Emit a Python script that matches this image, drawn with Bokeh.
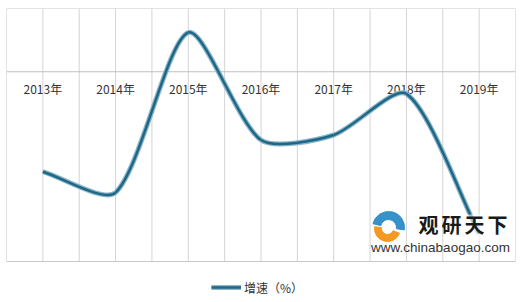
import math
from bokeh.plotting import figure
from bokeh.models import Range1d, Legend, LegendItem, ColumnDataSource
from bokeh.core.properties import value
from bokeh.embed import file_html
from bokeh.resources import INLINE

years = ["2013年", "2014年", "2015年", "2016年", "2017年", "2018年", "2019年"]
growth = [-15.8, -19.1, 6.2, -10.8, -10.0, -3.5, -25.6]
series_name = "增速（%）"

n = len(years)
xs = [i + 0.5 for i in range(n)]
y_lo, y_hi = -30.0, 10.0           # plot-area value range
px_per_unit = 253 / (y_hi - y_lo)  # plot area is 253 px tall
px_per_cat = 509 / n               # plot area is 509 px wide
y_bottom = y_lo - 41 / px_per_unit # extra room for the legend below

# Smoothed line (distance-weighted cardinal spline -> cubic bezier segments)
P = [(x * px_per_cat, y * px_per_unit) for x, y in zip(xs, growth)]
k = 0.25


def dist(a, b):
    return math.hypot(a[0] - b[0], a[1] - b[1])


ctrl_prev, ctrl_next = [], []
for i in range(n):
    a = P[max(i - 1, 0)]
    b = P[min(i + 1, n - 1)]
    t = (b[0] - a[0], b[1] - a[1])
    dp = dist(P[i], a)
    dn = dist(P[i], b)
    s = dp + dn
    fp = dp / s * k
    fn = dn / s * k
    if i == 0:
        fn = k
    if i == n - 1:
        fp = k
    ctrl_prev.append((P[i][0] - t[0] * fp, P[i][1] - t[1] * fp))
    ctrl_next.append((P[i][0] + t[0] * fn, P[i][1] + t[1] * fn))

seg = dict(x0=[], y0=[], x1=[], y1=[], cx0=[], cy0=[], cx1=[], cy1=[])
for i in range(n - 1):
    seg["x0"].append(xs[i]); seg["y0"].append(growth[i])
    seg["x1"].append(xs[i + 1]); seg["y1"].append(growth[i + 1])
    seg["cx0"].append(ctrl_next[i][0] / px_per_cat)
    seg["cy0"].append(ctrl_next[i][1] / px_per_unit)
    seg["cx1"].append(ctrl_prev[i + 1][0] / px_per_cat)
    seg["cy1"].append(ctrl_prev[i + 1][1] / px_per_unit)
src = ColumnDataSource(seg)

p = figure(width=520, height=302, output_backend="svg", toolbar_location=None,
           x_range=Range1d(0, n), y_range=Range1d(y_bottom, y_hi),
           x_axis_location=None, y_axis_location=None,
           min_border_left=6, min_border_right=5, min_border_top=8,
           min_border_bottom=0)
p.background_fill_color = "white"
p.border_fill_color = "white"
p.outline_line_color = None
p.xgrid.visible = False
p.ygrid.visible = False

# vertical gridlines at every half category
gx = [i * 0.5 for i in range(1, 2 * n)]
p.segment(x0=gx, y0=[y_lo] * len(gx), x1=gx, y1=[y_hi] * len(gx),
          line_color="#D4D4D4", line_width=1)
# zero line
p.segment(x0=[0], y0=[0], x1=[n], y1=[0], line_color="#BFBFBF", line_width=1)
# plot-area border
p.quad(left=[0], right=[n], bottom=[y_lo], top=[y_hi], fill_color=None,
       line_color="#C8C8C8", line_width=1)

# category labels sitting under the zero line
p.text(x=xs, y=[0] * n, text=years, text_align="center", text_baseline="middle",
       y_offset=17, text_font=value("Noto Sans CJK SC"), text_font_size="12px",
       text_color="#333333")

light = p.bezier(x0="x0", y0="y0", x1="x1", y1="y1", cx0="cx0", cy0="cy0",
                 cx1="cx1", cy1="cy1", source=src, line_color="#8CB5C8",
                 line_width=5)
dark = p.bezier(x0="x0", y0="y0", x1="x1", y1="y1", cx0="cx0", cy0="cy0",
                cx1="cx1", cy1="cy1", source=src, line_color="#1D6787",
                line_width=2.5)


# watermark (decoration, placed in plot pixels, drawn over the line)
def dx(px):
    return (px - 6) / px_per_cat


def dy(py):
    return y_hi - (py - 8) / px_per_unit


p.quad(left=[dx(462)], right=[dx(500)], bottom=[dy(240)], top=[dy(214)],
       fill_color="white", fill_alpha=0.55, line_color=None)
p.annular_wedge(x=[dx(388)], y=[dy(227)], inner_radius=8, outer_radius=16,
                inner_radius_units="screen", outer_radius_units="screen",
                start_angle=-0.15, end_angle=2.9, color="#2B8CC6", alpha=0.95)
p.annular_wedge(x=[dx(387)], y=[dy(228)], inner_radius=6, outer_radius=13,
                inner_radius_units="screen", outer_radius_units="screen",
                start_angle=3.0, end_angle=5.9, color="#F29418", alpha=0.95)
wm_chars = ["观", "研", "天", "下"]
p.text(x=[dx(428 + 23 * i) for i in range(4)], y=[dy(224)] * 4, text=wm_chars,
       text_align="center", text_baseline="middle",
       text_font=value("Noto Sans CJK SC"), text_font_style="bold",
       text_font_size="20px", text_color="#1A1A1A")
p.text(x=[dx(440)], y=[dy(247)], text=["www.chinabaogao.com"],
       text_align="center", text_baseline="middle",
       text_font=value("Liberation Sans"), text_font_size="13.5px",
       text_color="#333333")

legend = Legend(items=[LegendItem(label=series_name, renderers=[light, dark])],
                orientation="horizontal", location=(200, 0),
                border_line_alpha=0, background_fill_alpha=0,
                label_text_font="Noto Sans CJK SC", label_text_font_size="12px",
                label_text_color="#333333", glyph_width=30, glyph_height=20,
                label_standoff=3, padding=5, margin=0, spacing=0)
p.add_layout(legend)

open("out.html", "w").write(file_html(p, INLINE))
